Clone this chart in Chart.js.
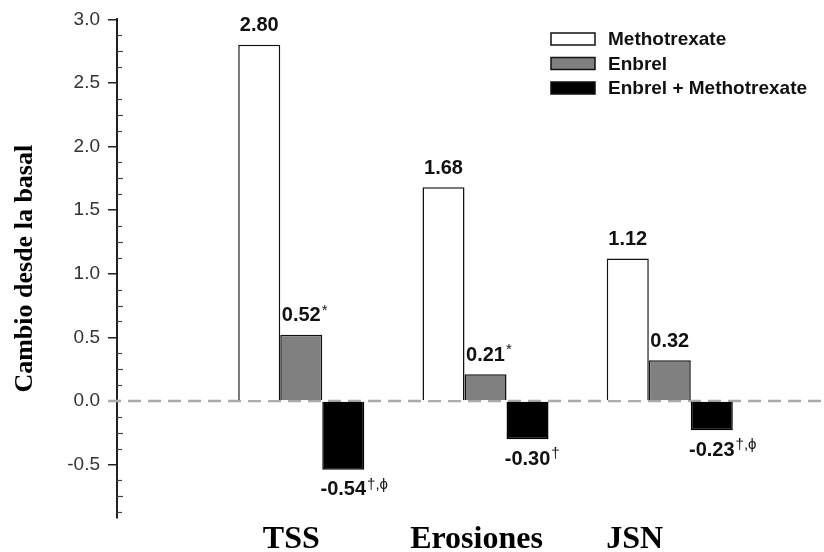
<!DOCTYPE html>
<html>
<head>
<meta charset="utf-8">
<script src="https://cdn.jsdelivr.net/npm/chart.js@4.4.1/dist/chart.umd.min.js"></script>
<style>
    body { margin: 0; background: #fff; }
    #wrap { width: 824px; height: 552px; }
</style>
</head>
<body>
<div id="wrap"><canvas id="myChart" width="824" height="552"></canvas></div>
<script>
const categories = ['TSS', 'Erosiones', 'JSN'];
const seriesNames = ['Methotrexate', 'Enbrel', 'Enbrel + Methotrexate'];
const methotrexate = [2.80, 1.68, 1.12];
const enbrel = [0.52, 0.21, 0.32];
const enbrelMethotrexate = [-0.54, -0.30, -0.23];
const methotrexateMarks = ['', '', ''];
const enbrelMarks = ['*', '*', ''];
const comboMarks = ['†,ϕ', '†', '†,ϕ'];
const yTicks = [-0.5, 0.0, 0.5, 1.0, 1.5, 2.0, 2.5, 3.0];

const marks = [methotrexateMarks, enbrelMarks, comboMarks];
const toPoints = arr => arr.map((v, i) => ({x: i + 1, y: v}));

// dashed zero line, minor ticks, value labels, legend, category labels
const extras = {
    id: 'extras',
    beforeDatasetsDraw(chart) {
        const {ctx, scales: {y}} = chart;
        const y0 = y.getPixelForValue(0);
        const left = chart.chartArea.left;
        ctx.save();
        ctx.strokeStyle = '#aaa';
        ctx.lineWidth = 2.5;
        ctx.setLineDash([13, 7]);
        ctx.beginPath();
        ctx.moveTo(left - 9, y0);
        ctx.lineTo(chart.width, y0);
        ctx.stroke();
        ctx.setLineDash([]);
        ctx.strokeStyle = '#444';
        ctx.lineWidth = 1.2;
        for (let v = -0.875; v < 3; v += 0.125) {
            if (Math.abs(v * 2 - Math.round(v * 2)) < 1e-6) continue;
            const py = Math.round(y.getPixelForValue(v)) + 0.5;
            const len = Math.abs(v * 4 - Math.round(v * 4)) < 1e-6 ? 6 : 5;
            ctx.beginPath();
            ctx.moveTo(left, py);
            ctx.lineTo(left + len, py);
            ctx.stroke();
        }
        ctx.restore();
    },
    afterDatasetsDraw(chart) {
        const {ctx} = chart;
        ctx.save();
        ctx.fillStyle = '#111';
        chart.data.datasets.forEach((ds, di) => {
            chart.getDatasetMeta(di).data.forEach((bar, i) => {
                const v = ds.data[i].y;
                const txt = v.toFixed(2);
                const cy = v >= 0 ? bar.y - 19 : bar.y + 20;
                ctx.font = 'bold 20px "Liberation Sans", Arial, sans-serif';
                ctx.textAlign = 'center';
                ctx.textBaseline = 'middle';
                ctx.fillText(txt, bar.x, cy);
                const m = marks[di][i];
                if (m) {
                    const w = ctx.measureText(txt).width;
                    ctx.font = '15px "Liberation Sans", Arial, sans-serif';
                    ctx.textAlign = 'left';
                    ctx.fillText(m, bar.x + w / 2 + 1, cy - 5);
                }
            });
        });
        ctx.restore();
    },
    afterDraw(chart) {
        const {ctx, scales: {x}} = chart;
        ctx.save();
        // legend
        const rowY = [39, 63.5, 88];
        chart.data.datasets.forEach((ds, di) => {
            ctx.fillStyle = ds.backgroundColor;
            ctx.strokeStyle = '#111';
            ctx.lineWidth = 1.5;
            ctx.fillRect(551, rowY[di] - 6, 44, 12);
            ctx.strokeRect(551, rowY[di] - 6, 44, 12);
            ctx.fillStyle = '#111';
            ctx.font = 'bold 19px "Liberation Sans", Arial, sans-serif';
            ctx.textAlign = 'left';
            ctx.textBaseline = 'middle';
            ctx.fillText(ds.label, 608, rowY[di] + 1);
        });
        // category labels
        const shift = [-10, -9, -35];
        ctx.fillStyle = '#000';
        ctx.font = 'bold 32px "Liberation Serif", "Times New Roman", serif';
        ctx.textAlign = 'center';
        ctx.textBaseline = 'alphabetic';
        categories.forEach((c, i) => {
            ctx.fillText(c, x.getPixelForValue(i + 1) + shift[i], 548);
        });
        ctx.restore();
    }
};

const config = {
    type: 'bar',
    data: {
        datasets: [{
            label: seriesNames[0],
            data: toPoints(methotrexate),
            backgroundColor: '#ffffff',
            borderColor: '#111',
            borderWidth: 1.5,
            clip: false
        }, {
            label: seriesNames[1],
            data: toPoints(enbrel),
            backgroundColor: '#808080',
            borderColor: '#111',
            borderWidth: 1.5,
            clip: false
        }, {
            label: seriesNames[2],
            data: toPoints(enbrelMethotrexate),
            backgroundColor: '#000000',
            borderColor: '#000',
            borderWidth: 1.5,
            clip: false
        }]
    },
    options: {
        responsive: false,
        animation: false,
        categoryPercentage: 0.684,
        barPercentage: 1.0,
        layout: { padding: { top: 15, bottom: 34, left: 0, right: 0 } },
        plugins: {
            legend: { display: false },
            tooltip: { enabled: false }
        },
        scales: {
            x: {
                type: 'linear',
                display: false,
                offset: false,
                min: 0,
                max: 3.837,
                afterBuildTicks: scale => {
                    scale.ticks = categories.map((c, i) => ({value: i + 1}));
                }
            },
            y: {
                type: 'linear',
                min: -0.92,
                max: 3.0,
                afterBuildTicks: scale => {
                    scale.ticks = yTicks.map(v => ({value: v}));
                },
                afterFit: scale => { scale.width = 117; },
                border: { display: true, color: '#222', width: 2 },
                grid: {
                    drawOnChartArea: false,
                    drawTicks: true,
                    tickLength: 9,
                    color: '#222',
                    lineWidth: 1.5
                },
                ticks: {
                    padding: 8,
                    color: '#333',
                    font: { family: '"Liberation Sans", Arial, sans-serif', size: 19 },
                    callback: v => Number(v).toFixed(1)
                },
                title: {
                    display: true,
                    text: 'Cambio desde la basal',
                    color: '#000',
                    padding: { top: 10, bottom: 0 },
                    font: { family: '"Liberation Serif", "Times New Roman", serif', size: 26, weight: 'bold' }
                }
            }
        }
    },
    plugins: [extras]
};

new Chart(document.getElementById('myChart'), config);
</script>
</body>
</html>
